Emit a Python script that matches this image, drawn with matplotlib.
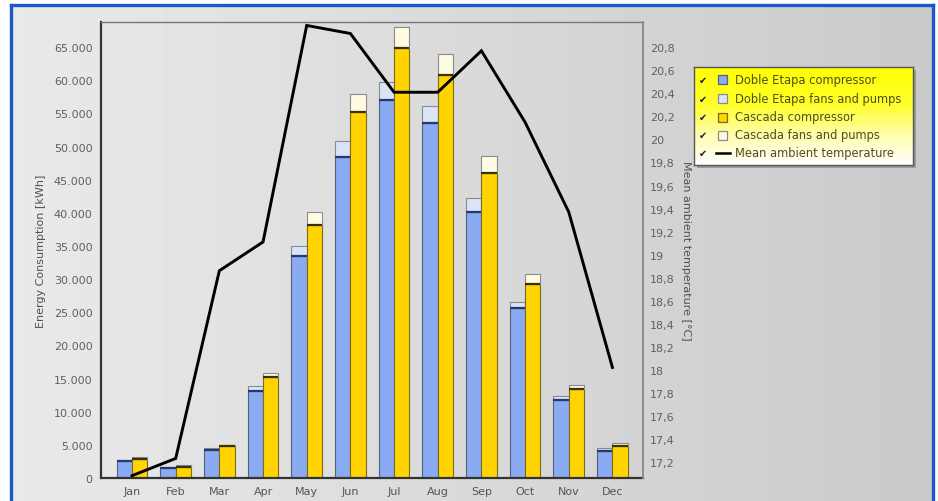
import numpy as np
import matplotlib
matplotlib.use('Agg')
import matplotlib.pyplot as plt
from matplotlib.patches import Rectangle
from matplotlib.lines import Line2D
from matplotlib.colors import LinearSegmentedColormap

months = ['Jan', 'Feb', 'Mar', 'Apr', 'May', 'Jun', 'Jul', 'Aug', 'Sep', 'Oct', 'Nov', 'Dec']
doble_comp = [2500, 1450, 4300, 13200, 33500, 48500, 57000, 53500, 40200, 25600, 11700, 4100]
doble_fans = [200, 150, 200, 700, 1500, 2400, 2800, 2600, 2100, 1000, 700, 400]
cascada_comp = [2800, 1700, 4800, 15200, 38200, 55200, 64900, 60800, 46000, 29200, 13400, 4800]
cascada_fans = [300, 200, 200, 600, 2000, 2700, 3200, 3200, 2600, 1600, 700, 500]
temperature = [17.08, 17.23, 18.86, 19.11, 20.99, 20.92, 20.41, 20.41, 20.77, 20.15, 19.37, 18.02]
series_names = ['Doble Etapa compressor', 'Doble Etapa fans and pumps',
                'Cascada compressor', 'Cascada fans and pumps',
                'Mean ambient temperature']
energy_ticks = list(range(0, 65001, 5000))
temp_ticks = [17.2, 17.4, 17.6, 17.8, 18.0, 18.2, 18.4, 18.6, 18.8, 19.0,
              19.2, 19.4, 19.6, 19.8, 20.0, 20.2, 20.4, 20.6, 20.8]

W, H = 938, 502
fig = plt.figure(figsize=(W / 100, H / 100), dpi=100, facecolor='white')

# background gradient inside the blue frame
bx0, bx1, by_top = 11, 933, 6
bg = fig.add_axes([bx0 / W, 0, (bx1 - bx0) / W, (H - by_top) / H], zorder=-10)
gx = np.linspace(0, 1, 256)
grad = (0.915 - 0.125 * gx).reshape(1, -1)
bg.imshow(grad, cmap='gray', vmin=0, vmax=1, aspect='auto', extent=[0, 1, 0, 1],
          interpolation='bilinear')
bg.set_axis_off()

# blue frame
blue = '#1d58c9'
fig.add_artist(Line2D([bx0 / W, bx0 / W], [0, 1 - by_top / H], color=blue, lw=2.4,
                      transform=fig.transFigure))
fig.add_artist(Line2D([bx1 / W, bx1 / W], [0, 1 - by_top / H], color=blue, lw=2.4,
                      transform=fig.transFigure))
fig.add_artist(Line2D([bx0 / W, bx1 / W], [1 - by_top / H, 1 - by_top / H], color=blue,
                      lw=2.4, transform=fig.transFigure))

ax = fig.add_axes([101 / W, 23 / H, (643 - 101) / W, (479 - 23) / H])
ax.set_facecolor('none')
x = np.arange(len(months))
bw = 0.35
off = 0.175

c_blue, c_blue_l = '#8aaaf2', '#d9e4f8'
c_yel, c_yel_l = '#ffd400', '#fffbe2'

dc = np.array(doble_comp)
df = np.array(doble_fans)
cc = np.array(cascada_comp)
cf = np.array(cascada_fans)

ax.bar(x - off, dc, bw, color=c_blue, edgecolor='#55607a', lw=0.8, zorder=2)
ax.bar(x - off, df, bw, bottom=dc, color=c_blue_l, edgecolor='#8a8a8a', lw=0.8, zorder=2)
ax.hlines(dc, x - off - bw / 2, x - off + bw / 2, color='#233a6a', lw=1.6, zorder=3)
ax.bar(x + off, cc, bw, color=c_yel, edgecolor='#7a6a20', lw=0.8, zorder=2)
ax.bar(x + off, cf, bw, bottom=cc, color=c_yel_l, edgecolor='#8a8a8a', lw=0.8, zorder=2)
ax.hlines(cc, x + off - bw / 2, x + off + bw / 2, color='#3a3000', lw=1.6, zorder=3)

ax.set_xlim(-0.71, 11.7)
ax.set_ylim(0, 68800)
ax.set_xticks(x)
ax.set_xticklabels(months, fontsize=8, color='#555555')
ax.set_yticks(energy_ticks)
ax.set_yticklabels(['0' if v == 0 else f'{v // 1000}.000' for v in energy_ticks],
                   fontsize=8, color='#606060')
ax.tick_params(axis='both', length=0, pad=6)
ax.set_ylabel('Energy Consumption [kWh]', fontsize=8, color='#505050', labelpad=6)

for s in ['left', 'bottom']:
    ax.spines[s].set_color('#333333')
    ax.spines[s].set_linewidth(1.6)
ax.spines['top'].set_color('#777777')
ax.spines['top'].set_linewidth(1.0)
ax.spines['right'].set_visible(False)

ax2 = ax.twinx()
ax2.plot(x, temperature, color='black', lw=2.1, zorder=5, solid_joinstyle='miter')
ax2.set_ylim(17.06, 21.02)
ax2.set_yticks(temp_ticks)


def tfmt(v):
    if abs(v - round(v)) < 1e-6:
        return f'{int(round(v))}'
    return f'{v:.1f}'.replace('.', ',')


ax2.set_yticklabels([tfmt(v) for v in temp_ticks], fontsize=8, color='#606060')
ax2.tick_params(axis='y', length=0, pad=5)
ax2.set_ylabel('Mean ambient temperature [°C]', fontsize=8, color='#505050',
               rotation=270, labelpad=12)
for s in ['left', 'bottom', 'top']:
    ax2.spines[s].set_visible(False)
ax2.spines['right'].set_color('#888888')
ax2.spines['right'].set_linewidth(1.3)
ax2.spines['right'].set_linestyle((0, (1, 1)))
ax2.set_zorder(ax.get_zorder() + 1)
ax2.patch.set_visible(False)

# legend box
lx0, lx1, ly0, ly1 = 694, 913, 68, 166
shadow = fig.add_axes([(lx0 + 3) / W, 1 - (ly1 + 3) / H, (lx1 - lx0) / W, (ly1 - ly0) / H],
                      zorder=8)
shadow.set_facecolor('#9a9a9a')
shadow.set_xticks([])
shadow.set_yticks([])
for s in shadow.spines.values():
    s.set_visible(False)
lg = fig.add_axes([lx0 / W, 1 - ly1 / H, (lx1 - lx0) / W, (ly1 - ly0) / H], zorder=9)
ycm = LinearSegmentedColormap.from_list('yw', [(0, '#ffffff'), (0.3, '#fffdb0'),
                                               (0.6, '#ffff30'), (1, '#ffff00')])
lg.imshow(np.linspace(0, 1, 128)[::-1].reshape(-1, 1), cmap=ycm, aspect='auto',
          extent=[0, lx1 - lx0, ly1 - ly0, 0], interpolation='bilinear')
lg.set_xlim(0, lx1 - lx0)
lg.set_ylim(ly1 - ly0, 0)
lg.set_xticks([])
lg.set_yticks([])
for s in lg.spines.values():
    s.set_color('#555555')
    s.set_linewidth(1.0)

row_y = [12.5, 31.5, 50, 68, 85.5]
swatch = [(c_blue, '#55607a'), (c_blue_l, '#8a8a8a'), (c_yel, '#7a6a20'), (c_yel_l, '#8a8a8a')]
for i, name in enumerate(series_names):
    yy = row_y[i]
    lg.text(9, yy, '✔', fontsize=7, color='#1a1a3a', ha='center', va='center')
    if i < 4:
        lg.add_patch(Rectangle((24, yy - 4.5), 9, 9, facecolor=swatch[i][0],
                               edgecolor=swatch[i][1], lw=0.9))
    else:
        lg.plot([22, 36], [yy, yy], color='black', lw=1.8)
    lg.text(41, yy, name, fontsize=8.3, color='#4e4e18', ha='left', va='center')

fig.savefig('out.png', dpi=100, facecolor=fig.get_facecolor())
